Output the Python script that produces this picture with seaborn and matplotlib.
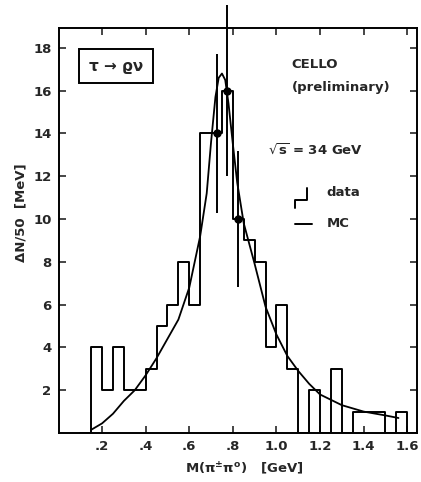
import numpy as np
import pandas as pd
import matplotlib
matplotlib.use("Agg")
import matplotlib.pyplot as plt
import seaborn as sns
from matplotlib.patches import Rectangle

# ---- data ----
# outer empty bins (0.10-0.15, 1.60-1.65) close the step outline to the baseline
bin_edges = [0.10, 0.15, 0.20, 0.25, 0.30, 0.35, 0.40, 0.45, 0.50, 0.55, 0.60,
             0.65, 0.70, 0.75, 0.80, 0.85, 0.90, 0.95, 1.00, 1.05, 1.10,
             1.15, 1.20, 1.25, 1.30, 1.35, 1.40, 1.45, 1.50, 1.55, 1.60, 1.65]
data_counts = [0, 4, 2, 4, 2, 2, 3, 5, 6, 8, 6,
               14, 14, 16, 10, 9, 8, 4, 6, 3, 0,
               2, 0, 3, 0, 1, 1, 1, 0, 1, 0]

err_x = [0.725, 0.775, 0.825]
err_y = [14, 16, 10]
err_sig = [3.7, 4.0, 3.2]

mc_x = [0.15, 0.20, 0.25, 0.30, 0.35, 0.40, 0.45, 0.50, 0.55, 0.60, 0.65,
        0.68, 0.70, 0.72, 0.735, 0.75, 0.765, 0.78, 0.80, 0.82, 0.85, 0.90, 0.95,
        1.00, 1.05, 1.10, 1.15, 1.20, 1.30, 1.40, 1.50, 1.56]
mc_y = [0.15, 0.45, 0.9, 1.5, 2.0, 2.7, 3.5, 4.4, 5.3, 6.8, 9.2,
        11.2, 13.6, 15.7, 16.6, 16.8, 16.5, 15.4, 13.5, 11.7, 9.8, 7.9, 5.9,
        4.6, 3.6, 2.9, 2.3, 1.8, 1.3, 1.0, 0.82, 0.7]

x_ticks = [0.2, 0.4, 0.6, 0.8, 1.0, 1.2, 1.4, 1.6]
x_ticklabels = [".2", ".4", ".6", ".8", "1.0", "1.2", "1.4", "1.6"]
y_ticks = [2, 4, 6, 8, 10, 12, 14, 16, 18]

sns.set_style("ticks")
plt.rcParams["font.family"] = ["DejaVu Sans"]
plt.rcParams["mathtext.default"] = "regular"

fig = plt.figure(figsize=(4.21, 4.82), dpi=100)
ax = fig.add_axes([0.139, 0.1017, 0.851, 0.8403])

centers = [(a + b) / 2 for a, b in zip(bin_edges[:-1], bin_edges[1:])]
df = pd.DataFrame({"m": centers, "n": data_counts})
sns.histplot(data=df, x="m", weights="n", bins=bin_edges, element="step",
             fill=False, color="black", linewidth=1.4, ax=ax)

mc = pd.DataFrame({"m": mc_x, "n": mc_y})
sns.lineplot(data=mc, x="m", y="n", color="black", linewidth=1.3, ax=ax)

ax.errorbar(err_x, err_y, yerr=err_sig, fmt="o", color="black",
            markersize=5, elinewidth=1.4, capsize=0, clip_on=False, zorder=5)

ax.set_xlim(0, 1.644)
ax.set_ylim(0, 18.93)
ax.set_xticks(x_ticks)
ax.set_xticklabels(x_ticklabels)
ax.set_yticks(y_ticks)
ax.tick_params(direction="in", length=5, width=1.2, top=True, right=True,
               labelsize=9.5, pad=5)
for lab in ax.get_xticklabels() + ax.get_yticklabels():
    lab.set_fontweight("bold")
for s in ax.spines.values():
    s.set_linewidth(1.4)
    s.set_color("black")

ax.set_xlabel("M(π$^{\\pm}$π$^{o}$)   [GeV]", fontsize=9.5, fontweight="bold")
ax.set_ylabel("ΔN/50  [MeV]", fontsize=9.5, fontweight="bold")
ax.xaxis.set_label_coords(0.517, -0.068)
ax.yaxis.set_label_coords(-0.088, 0.543)

# annotations
ax.add_patch(Rectangle((0.057, 0.864), 0.206, 0.084, transform=ax.transAxes,
                       fill=False, edgecolor="black", linewidth=1.4))
ax.text(0.160, 0.906, "τ → ϱν", transform=ax.transAxes, ha="center",
        va="center", fontsize=11, fontweight="bold")
ax.text(0.651, 0.909, "CELLO", transform=ax.transAxes, ha="left",
        va="center", fontsize=9.5, fontweight="bold")
ax.text(0.651, 0.854, "(preliminary)", transform=ax.transAxes, ha="left",
        va="center", fontsize=9.5, fontweight="bold")
ax.text(0.584, 0.699, r"$\sqrt{s}$ = 34 GeV", transform=ax.transAxes,
        ha="left", va="center", fontsize=9.5, fontweight="bold")

# legend glyphs
ax.plot([0.660, 0.660, 0.693, 0.693], [0.556, 0.575, 0.575, 0.605],
        transform=ax.transAxes, color="black", linewidth=1.4)
ax.text(0.749, 0.593, "data", transform=ax.transAxes, ha="left",
        va="center", fontsize=9.5, fontweight="bold")
ax.plot([0.660, 0.707], [0.516, 0.516], transform=ax.transAxes,
        color="black", linewidth=1.4)
ax.text(0.749, 0.516, "MC", transform=ax.transAxes, ha="left",
        va="center", fontsize=9.5, fontweight="bold")

fig.savefig("out.png", dpi=100)
